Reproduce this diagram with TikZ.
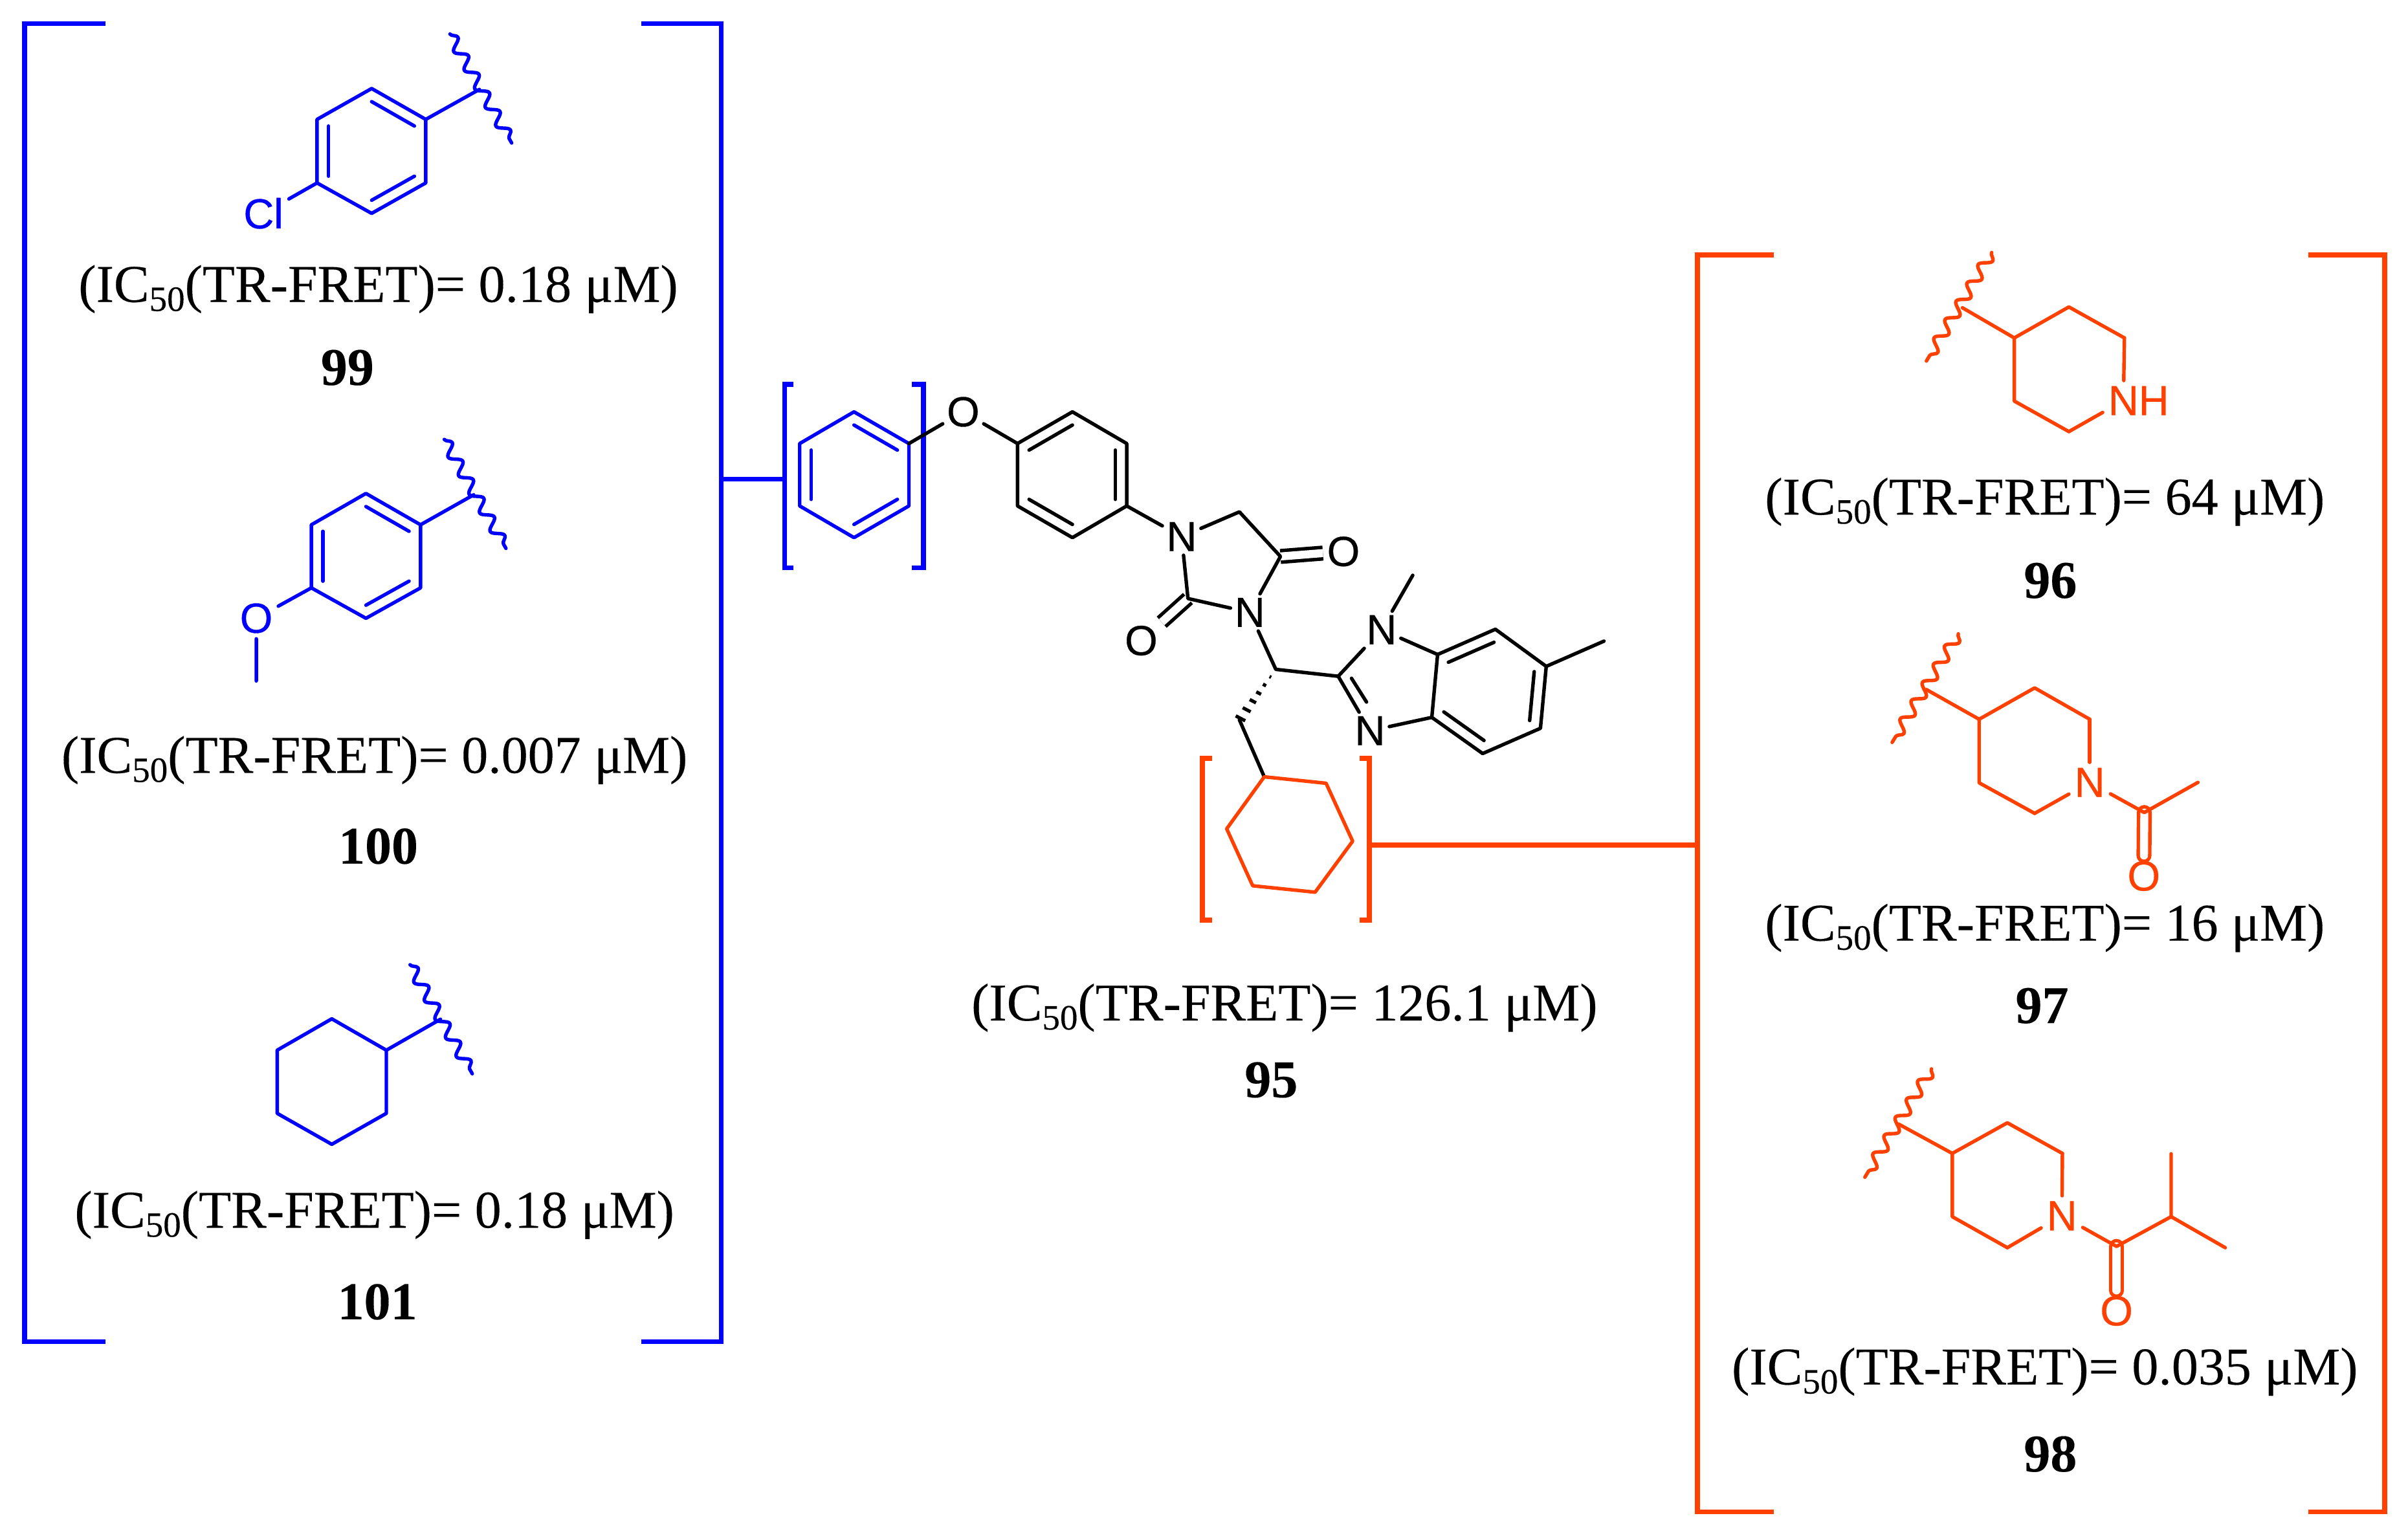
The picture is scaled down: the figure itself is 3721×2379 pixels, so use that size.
\documentclass[tikz,border=0pt]{standalone}
\usepackage{fontspec}
\setmainfont[FakeBold=0.2]{Liberation Serif}
\newfontfamily\atomfont[FakeBold=0.5]{Liberation Sans}
\usetikzlibrary{calc,decorations.pathmorphing}
\definecolor{cblue}{HTML}{0000FF}
\definecolor{corange}{HTML}{FF4000}
\newcommand\ictext[1]{(IC\raisebox{-7pt}{\fontsize{27.5}{27.5}\selectfont 50}(TR-FRET)=~#1~μM)}
\newcommand\sixring[7]{%
  \coordinate (#1a) at #2; \coordinate (#1b) at #3; \coordinate (#1c) at #4;
  \coordinate (#1d) at #5; \coordinate (#1e) at #6; \coordinate (#1f) at #7;
  \coordinate (#1o) at ($(#1a)!.5!(#1d)$);}
\newcommand\inbond[3]{\draw ($(#1)!.21!(#3)$) -- ($(#2)!.21!(#3)$);}
\tikzset{
  bonds/.style={line width=2.7pt,line cap=round,line join=round},
  dblbond/.style={line width=2.7pt,double,double distance=6.2pt},
  bracket/.style={line width=3.75pt,miter limit=10},
  atom/.style={font=\atomfont\fontsize{32.5}{32.5}\selectfont,inner sep=3pt},
  ic/.style={anchor=base,inner sep=0pt,font=\fontsize{41}{41}\selectfont},
  cmpd/.style={anchor=base,inner sep=0pt,font=\bfseries\fontsize{41}{41}\selectfont},
  wavy/.style={decorate,decoration={snake,segment length=16.5pt,amplitude=4.2pt}},
}
\begin{document}
\begin{tikzpicture}[x=0.5pt,y=-0.5pt]
\useasboundingbox (0,0) rectangle (3721,2379);

% ---------- outer and inner brackets, links
\coordinate (bl1) at (163,36.5); \coordinate (bl2) at (38,36.5); \coordinate (bl3) at (38,2073.5); \coordinate (bl4) at (163,2073.5);
\coordinate (br1) at (991,36.5); \coordinate (br2) at (1114.5,36.5); \coordinate (br3) at (1114.5,2073.5); \coordinate (br4) at (991,2073.5);
\coordinate (ibl1) at (1226,594); \coordinate (ibl2) at (1212.5,594); \coordinate (ibl3) at (1212.5,877.5); \coordinate (ibl4) at (1226,877.5);
\coordinate (ibr1) at (1409,594); \coordinate (ibr2) at (1427,594); \coordinate (ibr3) at (1427,877.5); \coordinate (ibr4) at (1409,877.5);
\coordinate (lnkb1) at (1114.5,740.5); \coordinate (lnkb2) at (1212.5,740.5);
\coordinate (ol1) at (2741,394); \coordinate (ol2) at (2623,394); \coordinate (ol3) at (2623,2336.5); \coordinate (ol4) at (2741,2336.5);
\coordinate (or1) at (3567,394); \coordinate (or2) at (3685,394); \coordinate (or3) at (3685,2336.5); \coordinate (or4) at (3567,2336.5);
\coordinate (iol1) at (1873,1172); \coordinate (iol2) at (1858,1172); \coordinate (iol3) at (1858,1422); \coordinate (iol4) at (1873,1422);
\coordinate (ior1) at (2101,1172); \coordinate (ior2) at (2116,1172); \coordinate (ior3) at (2116,1422); \coordinate (ior4) at (2101,1422);
\coordinate (lnko1) at (2116,1306); \coordinate (lnko2) at (2623,1306);
\begin{scope}[draw=cblue]
  \draw[bracket] (bl1)--(bl2)--(bl3)--(bl4);
  \draw[bracket] (br1)--(br2)--(br3)--(br4);
  \draw[bracket] (ibl1)--(ibl2)--(ibl3)--(ibl4);
  \draw[bracket] (ibr1)--(ibr2)--(ibr3)--(ibr4);
  \draw[bracket] (lnkb1)--(lnkb2);
\end{scope}
\begin{scope}[draw=corange]
  \draw[bracket] (ol1)--(ol2)--(ol3)--(ol4);
  \draw[bracket] (or1)--(or2)--(or3)--(or4);
  \draw[bracket] (iol1)--(iol2)--(iol3)--(iol4);
  \draw[bracket] (ior1)--(ior2)--(ior3)--(ior4);
  \draw[bracket] (lnko1)--(lnko2);
\end{scope}

% ---------- central molecule 95
\begin{scope}[shift={(1150,550)},xscale=.8929,yscale=.7653]
  \sixring{A}{(190,113)}{(285,177)}{(285,303)}{(190,367)}{(96,303)}{(96,177)}
  \sixring{B}{(568,113)}{(662,177)}{(662,303)}{(568,367)}{(473,303)}{(473,177)}
  \sixring{D}{(1200,603)}{(1300,552)}{(1388,627)}{(1378,752)}{(1278,803)}{(1190,730)}
  \sixring{H}{(900,850)}{(1007,863)}{(1053,980)}{(988,1083)}{(880,1070)}{(835,955)}
  \node[atom] (Oe) at (379,113) {O};
  \node[atom] (N1) at (757,365) {N};
  \node[atom] (N3) at (875,518) {N};
  \node[atom] (O4) at (1037,395) {O};
  \node[atom] (O2) at (687,575) {O};
  \node[atom] (Na) at (1103,553) {N};
  \node[atom] (Nb) at (1083,757) {N};
  \coordinate (C5) at (857,315);
  \coordinate (C4) at (928,405);
  \coordinate (C2) at (768,490);
  \coordinate (CH) at (920,633);
  \coordinate (CHb) at (857,735);
  \coordinate (Cim) at (1028,647);
  \coordinate (MeN) at (1157,443);
  \coordinate (MeD) at (1488,576);
  \coordinate (imA) at (1051,651);
  \coordinate (imB) at (1077,699);
  \draw[dblbond] (C4) -- (O4);
  \draw[dblbond] (C2) -- (O2);
  \begin{scope}[bonds,draw=cblue]
    \draw (Aa)--(Ab)--(Ac)--(Ad)--(Ae)--(Af)--cycle;
    \inbond{Aa}{Ab}{Ao}
    \inbond{Ac}{Ad}{Ao}
    \inbond{Ae}{Af}{Ao}
  \end{scope}
  \begin{scope}[bonds]
    \draw (Ab) -- (Oe);
    \draw (Oe) -- (Bf);
    \draw (Ba)--(Bb)--(Bc)--(Bd)--(Be)--(Bf)--cycle;
    \inbond{Ba}{Bf}{Bo}
    \inbond{Bb}{Bc}{Bo}
    \inbond{Bd}{Be}{Bo}
    \draw (Bc) -- (N1);
    \draw (N1) -- (C5) -- (C4) -- (N3);
    \draw (N3) -- (C2) -- (N1);
    \draw (N3) -- (CH) -- (Cim) -- (Na);
    \draw (Na) -- (MeN);
    \draw (Na) -- (Da);
    \draw (Cim) -- (Nb);
    \draw (imA) -- (imB);
    \draw (Nb) -- (Df);
    \draw (Da)--(Db)--(Dc)--(Dd)--(De)--(Df)--cycle;
    \inbond{Da}{Db}{Do}
    \inbond{Dc}{Dd}{Do}
    \inbond{De}{Df}{Do}
    \draw (Dc) -- (MeD);
    \draw (CHb) -- (Ha);
    \foreach \t/\w in {.15/.8,.31/1.6,.47/2.4,.63/3.2,.8/4,.97/4.8}{
      \coordinate (P) at ($(CH)!\t!(CHb)$);
      \draw[line width=2.6pt,line cap=butt] ($(P)!\w pt!90:(CHb)$) -- ($(P)!\w pt!-90:(CHb)$);
    }
  \end{scope}
  \draw[bonds,draw=corange] (Ha)--(Hb)--(Hc)--(Hd)--(He)--(Hf)--cycle;
  \node[ic] (t95) at (935,1342) {\ictext{126.1}};
  \node[cmpd] (n95) at (912,1497) {95};
\end{scope}

% ---------- left column, 99 and 100 rings
\begin{scope}[shift={(0,0)},xscale=.7334,yscale=.7015,bonds,draw=cblue]
  \sixring{P}{(783,195)}{(897,263)}{(897,403)}{(783,470)}{(668,403)}{(668,263)}
  \node[atom,text=cblue] (Cl) at (555,470) {Cl};
  \coordinate (PX) at (1010,197);
  \coordinate (Pw1) at (948,75);
  \coordinate (Pw2) at (1078,315);
  \draw (Pa)--(Pb)--(Pc)--(Pd)--(Pe)--(Pf)--cycle;
  \inbond{Pa}{Pb}{Po}
  \inbond{Pc}{Pd}{Po}
  \inbond{Pe}{Pf}{Po}
  \draw (Pe) -- (Cl);
  \draw (Pb) -- (PX);
  \draw[wavy] (Pw1) -- (Pw2);
  \node[ic] (t99) at (797,665) {\ictext{0.18}};
  \node[cmpd] (n99) at (732,848) {99};

  \sixring{Q}{(771,1087)}{(886,1156)}{(886,1295)}{(771,1362)}{(656,1295)}{(656,1156)}
  \node[atom,text=cblue] (Om) at (540,1362) {O};
  \coordinate (Me) at (540,1500);
  \coordinate (QX) at (998,1090);
  \coordinate (Qw1) at (936,968);
  \coordinate (Qw2) at (1066,1208);
  \draw (Qa)--(Qb)--(Qc)--(Qd)--(Qe)--(Qf)--cycle;
  \inbond{Qa}{Qb}{Qo}
  \inbond{Qc}{Qd}{Qo}
  \inbond{Qe}{Qf}{Qo}
  \draw (Qe) -- (Om);
  \draw (Om) -- (Me);
  \draw (Qb) -- (QX);
  \draw[wavy] (Qw1) -- (Qw2);
\end{scope}

% ---------- left column, lower part
\begin{scope}[shift={(0,1100)},xscale=.7334,yscale=.6378,bonds,draw=cblue]
  \node[ic] (t100) at (789,148) {\ictext{0.007}};
  \node[cmpd] (n100) at (797,368) {100};
  \sixring{R}{(699,744)}{(814,820)}{(814,973)}{(699,1048)}{(584,973)}{(584,820)}
  \coordinate (RX) at (928,745);
  \coordinate (Rw1) at (864,613);
  \coordinate (Rw2) at (995,877);
  \draw (Ra)--(Rb)--(Rc)--(Rd)--(Re)--(Rf)--cycle;
  \draw (Rb) -- (RX);
  \draw[wavy] (Rw1) -- (Rw2);
  \node[ic] (t101) at (789,1250) {\ictext{0.18}};
  \node[cmpd] (n101) at (795,1472) {101};
\end{scope}

% ---------- right column, 96 and 97
\begin{scope}[shift={(2600,350)},xscale=.7149,yscale=.6378,bonds,draw=corange]
  \coordinate (Sa) at (835,195); \coordinate (Sb) at (955,270); \coordinate (Sd) at (835,497);
  \coordinate (Se) at (717,423); \coordinate (Sf) at (717,270); \coordinate (SX) at (605,197);
  \coordinate (Sw1) at (668,63); \coordinate (Sw2) at (527,326);
  \node[atom,text=corange] (NH) at (953,422) {N\rlap{H}};
  \draw (Sb) -- (NH);
  \draw (NH) -- (Sd);
  \draw (Sd)--(Se)--(Sf)--(Sa)--(Sb);
  \draw (Sf) -- (SX);
  \draw[wavy] (Sw1) -- (Sw2);
  \node[ic] (t96) at (783,698) {\ictext{64}};
  \node[cmpd] (n96) at (795,900) {96};

  \coordinate (Ta) at (761,1118); \coordinate (Tb) at (880,1194); \coordinate (Td) at (761,1422);
  \coordinate (Te) at (641,1348); \coordinate (Tf) at (641,1194); \coordinate (TX) at (527,1122);
  \coordinate (Tw1) at (596,987); \coordinate (Tw2) at (453,1250);
  \coordinate (TC) at (998,1420); \coordinate (TMe) at (1114,1347);
  \node[atom,text=corange] (TN) at (880,1347) {N};
  \node[atom,text=corange] (TO) at (997,1574) {O};
  \draw[dblbond,draw=corange] (TC) -- (TO);
  \draw (Tb) -- (TN);
  \draw (TN) -- (Td);
  \draw (Td)--(Te)--(Tf)--(Ta)--(Tb);
  \draw (Tf) -- (TX);
  \draw[wavy] (Tw1) -- (Tw2);
  \draw (TN) -- (TC) -- (TMe);
\end{scope}

% ---------- right column, 97 text and 98
\begin{scope}[shift={(2600,1350)},xscale=.7149,yscale=.6563,bonds,draw=corange]
  \node[ic] (t97) at (783,158) {\ictext{16}};
  \node[cmpd] (n97) at (777,352) {97};
  \coordinate (Ua) at (702,587); \coordinate (Ub) at (821,659); \coordinate (Ud) at (702,881);
  \coordinate (Ue) at (583,808); \coordinate (Uf) at (583,659); \coordinate (UX) at (467,590);
  \coordinate (Uw1) at (538,460); \coordinate (Uw2) at (394,715);
  \coordinate (UC) at (938,878); \coordinate (UCH) at (1056,808);
  \coordinate (UMe1) at (1056,660); \coordinate (UMe2) at (1173,881);
  \node[atom,text=corange] (UN) at (820,806) {N};
  \node[atom,text=corange] (UO) at (938,1030) {O};
  \draw[dblbond,draw=corange] (UC) -- (UO);
  \draw (Ub) -- (UN);
  \draw (UN) -- (Ud);
  \draw (Ud)--(Ue)--(Uf)--(Ua)--(Ub);
  \draw (Uf) -- (UX);
  \draw[wavy] (Uw1) -- (Uw2);
  \draw (UN) -- (UC) -- (UCH) -- (UMe1);
  \draw (UCH) -- (UMe2);
  \node[ic] (t98) at (783,1203) {\ictext{0.035}};
  \node[cmpd] (n98) at (795,1408) {98};
\end{scope}
\end{tikzpicture}
\end{document}
